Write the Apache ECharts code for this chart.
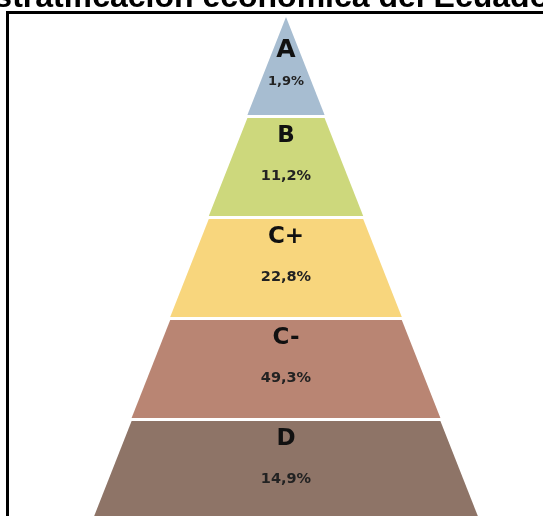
<!DOCTYPE html>
<html>
<head>
<meta charset="utf-8">
<script src="https://cdn.jsdelivr.net/npm/echarts@6/dist/echarts.min.js"></script>
<style>html,body{margin:0;padding:0;background:#fff;}#c{width:543px;height:516px;}</style>
</head>
<body>
<div id="c"></div>
<script>
const titleText = 'Estratificación económica del Ecuador';
const categories = ['A', 'B', 'C+', 'C-', 'D'];
const percentages = [1.9, 11.2, 22.8, 49.3, 14.9];
const layerWidths = [1, 2, 3, 4, 5];
const colors = ['#a7bdd1', '#cdd87c', '#f8d67d', '#b98573', '#8e7467'];

const chart = echarts.init(document.getElementById('c'));
const fmtPct = v => v.toFixed(1).replace('.', ',') + '%';

const data = categories.map((name, i) => {
  const item = {
    name: name,
    value: layerWidths[i],
    itemStyle: { color: colors[i] }
  };
  if (i === 0) {
    item.label = {
      padding: [0, 0, 4, 0],
      rich: {
        n: { fontFamily: 'DejaVu Sans', fontWeight: 'bold', fontSize: 25, lineHeight: 24, color: '#111' },
        s: { fontSize: 8, lineHeight: 11 },
        p: { fontFamily: 'DejaVu Sans', fontWeight: 'bold', fontSize: 13, lineHeight: 16, color: '#222' }
      }
    };
  }
  return item;
});

chart.setOption({
  animation: false,
  title: {
    text: titleText,
    left: -27,
    top: -18,
    padding: 0,
    textStyle: { fontFamily: 'Liberation Sans', fontWeight: 'bold', fontSize: 32, color: '#000' }
  },
  graphic: [{
    type: 'rect',
    shape: { x: 7.5, y: 12.5, width: 700, height: 700 },
    style: { fill: 'none', stroke: '#000', lineWidth: 3 },
    silent: true
  }],
  series: [{
    type: 'funnel',
    sort: 'ascending',
    left: 93,
    top: 17,
    width: 386,
    height: 502,
    min: 0,
    max: 5,
    minSize: '0%',
    maxSize: '100%',
    gap: 3,
    itemStyle: { borderWidth: 0 },
    emphasis: { disabled: true },
    labelLine: { show: false },
    label: {
      show: true,
      position: 'inside',
      padding: [0, 0, 26, 0],
      formatter: p => '{n|' + p.name + '}\n{s| }\n{p|' + fmtPct(percentages[p.dataIndex]) + '}',
      rich: {
        n: { fontFamily: 'DejaVu Sans', fontWeight: 'bold', fontSize: 23, lineHeight: 24, color: '#111' },
        s: { fontSize: 8, lineHeight: 20 },
        p: { fontFamily: 'DejaVu Sans', fontWeight: 'bold', fontSize: 14.5, lineHeight: 16, color: '#222' }
      }
    },
    data: data
  }]
});
</script>
</body>
</html>
